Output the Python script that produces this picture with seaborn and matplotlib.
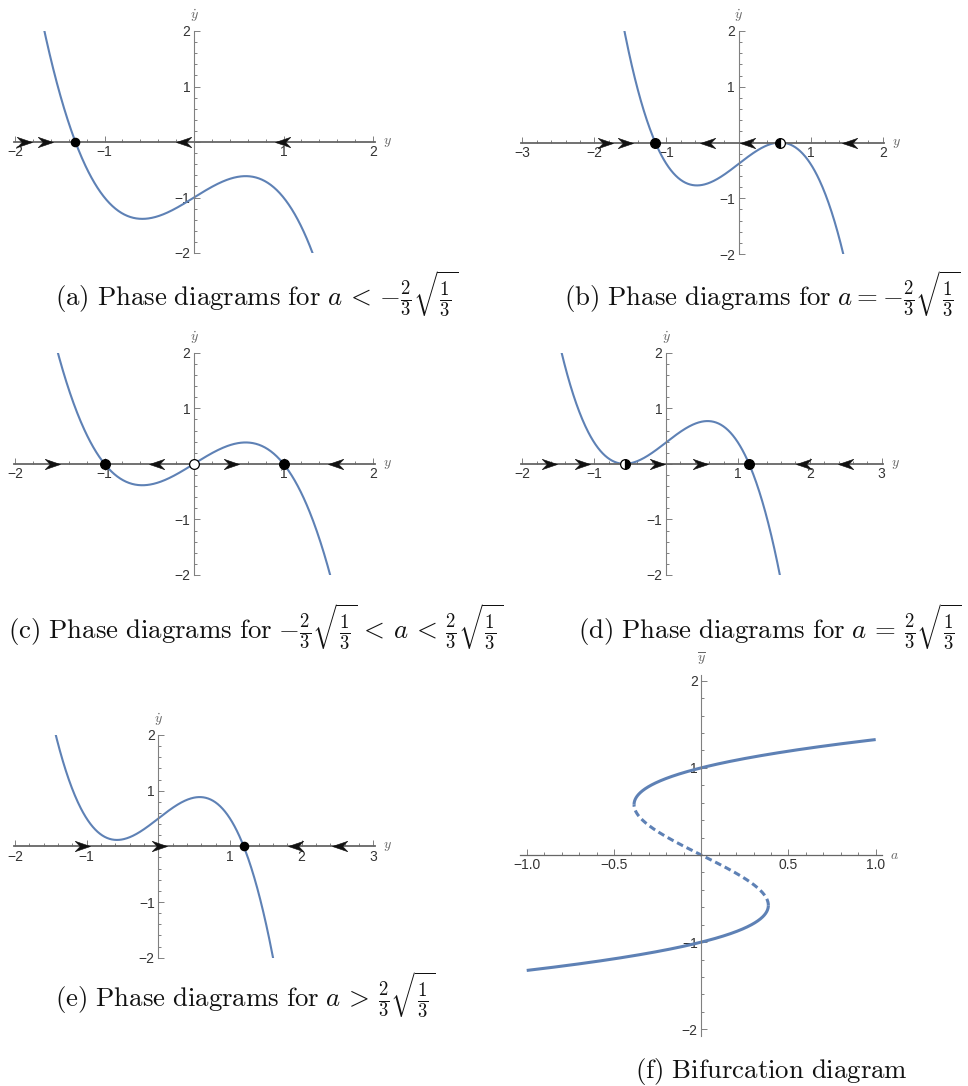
import numpy as np
import pandas as pd
import matplotlib
matplotlib.use("Agg")
import matplotlib.pyplot as plt
import seaborn as sns
from matplotlib.path import Path
from matplotlib.ticker import MultipleLocator, FuncFormatter

# ---------------------------------------------------------------------------
# Model: ydot = a + y - y^3
# ---------------------------------------------------------------------------
A_CRIT = 2.0 / (3.0 * np.sqrt(3.0))

a_values = [-1.0, -A_CRIT, 0.0, A_CRIT, 0.5]
y_ranges = [(-2, 2), (-3, 2), (-2, 2), (-2, 3), (-2, 3)]

fixed_points = [
    [-1.3247],
    [-1.1547, 0.5774],
    [-1.0, 0.0, 1.0],
    [-0.5774, 1.1547],
    [1.1915],
]
fixed_kinds = [
    ["stable"],
    ["stable", "semi_left"],
    ["stable", "unstable", "stable"],
    ["semi_right", "stable"],
    ["stable"],
]
point_sizes = [6, 7, 7, 7, 6]

arrows_right = [
    [-1.81, -1.58],
    [-1.74, -1.46],
    [-1.5, 0.5],
    [-1.52, -1.06, -0.02, 0.58],
    [-0.95, 0.12],
]
arrows_left = [
    [-0.20, 0.91],
    [-0.54, 0.02, 1.43],
    [-0.5, 1.5],
    [1.81, 2.39],
    [1.81, 2.42],
]

captions = [
    r"$\mathrm{(a)\ Phase\ diagrams\ for\ }a\,<\,{-\frac{2}{3}}\sqrt{\frac{1}{3}}$",
    r"$\mathrm{(b)\ Phase\ diagrams\ for\ }a = -\frac{2}{3}\sqrt{\frac{1}{3}}$",
    r"$\mathrm{(c)\ Phase\ diagrams\ for}\ {-\frac{2}{3}}\sqrt{\frac{1}{3}}\,<\,a\,<\,\frac{2}{3}\sqrt{\frac{1}{3}}$",
    r"$\mathrm{(d)\ Phase\ diagrams\ for\ }a\,=\,\frac{2}{3}\sqrt{\frac{1}{3}}$",
    r"$\mathrm{(e)\ Phase\ diagrams\ for\ }a\,>\,\frac{2}{3}\sqrt{\frac{1}{3}}$",
    r"$\mathrm{(f)\ Bifurcation\ diagram}$",
]

# bifurcation branch: equilibria ybar over the parameter range a in [-1, 1]
ybar_limit = 1.3247
ybar_knee = 1.0 / np.sqrt(3.0)

# ---------------------------------------------------------------------------
# Styling
# ---------------------------------------------------------------------------
sns.set_theme(style="white")
plt.rcParams.update({
    "font.family": ["Liberation Sans", "DejaVu Sans"],
    "mathtext.fontset": "cm",
    "axes.unicode_minus": True,
})

CURVE = "#5E81B5"
AXIS = "#808080"
TICKLBL = "#333333"
LABEL = "#666666"

W, H = 968, 1086
fig = plt.figure(figsize=(W / 100, H / 100), dpi=100)


def place(xref, xpx, xlim, yref, ypx, ylim):
    sx = (xpx[1] - xpx[0]) / (xref[1] - xref[0])
    left = xpx[0] + (xlim[0] - xref[0]) * sx
    right = xpx[0] + (xlim[1] - xref[0]) * sx
    sy = (ypx[1] - ypx[0]) / (yref[1] - yref[0])
    top = ypx[0] + (ylim[1] - yref[0]) * sy
    bottom = ypx[0] + (ylim[0] - yref[0]) * sy
    ax = fig.add_axes([left / W, 1 - bottom / H, (right - left) / W, (bottom - top) / H])
    ax.set_xlim(*xlim)
    ax.set_ylim(*ylim)
    ax.patch.set_alpha(0)
    return ax


def style_axes(ax, xminor, yminor, xfmt, yfmt, xlabel, ylabel, xlw=1.3):
    for s in ("top", "right"):
        ax.spines[s].set_visible(False)
    ax.spines["left"].set_position(("data", 0))
    ax.spines["bottom"].set_position(("data", 0))
    ax.spines["left"].set_color(AXIS)
    ax.spines["left"].set_linewidth(0.8)
    ax.spines["bottom"].set_color("#666666")
    ax.spines["bottom"].set_linewidth(xlw)
    ax.xaxis.set_minor_locator(MultipleLocator(xminor))
    ax.yaxis.set_minor_locator(MultipleLocator(yminor))
    ax.xaxis.set_major_formatter(FuncFormatter(xfmt))
    ax.yaxis.set_major_formatter(FuncFormatter(yfmt))
    ax.tick_params(which="both", bottom=True, left=True, top=False, right=False,
                   direction="in", color=AXIS, width=0.7,
                   labelsize=10, labelcolor=TICKLBL, pad=2.5)
    ax.tick_params(which="major", length=4.0)
    ax.tick_params(which="minor", length=2.3)
    ax.grid(False)
    xl = ax.get_xlim()
    yl = ax.get_ylim()
    ax.annotate(ylabel, xy=(0, yl[1]), xytext=(0, 5), textcoords="offset points",
                ha="center", va="bottom", fontsize=10, color=LABEL,
                annotation_clip=False)
    ax.annotate(xlabel, xy=(xl[1], 0), xytext=(6, 0), textcoords="offset points",
                ha="left", va="center", fontsize=10, color=LABEL,
                annotation_clip=False)


def int_fmt(v, pos):
    if abs(v) < 1e-9:
        return ""
    return f"{int(round(v))}".replace("-", "\u2212")


def dec_fmt(v, pos):
    if abs(v) < 1e-9:
        return ""
    return f"{v:.1f}".replace("-", "\u2212")


# arrowhead markers with a notched back, tip at the data point
arrow_r = Path([(0, 0), (-2, 0.68), (-1.35, 0), (-2, -0.68), (0, 0)],
               [Path.MOVETO, Path.LINETO, Path.LINETO, Path.LINETO, Path.CLOSEPOLY])
arrow_l = Path([(0, 0), (2, 0.68), (1.35, 0), (2, -0.68), (0, 0)],
               [Path.MOVETO, Path.LINETO, Path.LINETO, Path.LINETO, Path.CLOSEPOLY])

# panel geometry: (x reference px, y reference px)
panel_px = [
    ((15, 373), (253, 31)),
    ((522.3, 882.7), (254, 31)),
    ((15, 373), (575, 352.7)),
    ((522.3, 881.7), (575, 352.7)),
    ((15, 373.3), (957.7, 735)),
]

for i in range(5):
    lo, hi = y_ranges[i]
    xpx, ypx = panel_px[i]
    ax = place((lo, hi), xpx, (lo - 0.015, hi + 0.02), (-2, 2), ypx, (-2, 2))
    style_axes(ax, 0.2, 0.2, int_fmt, int_fmt, r"$y$", r"$\dot{y}$")
    ax.xaxis.set_major_locator(MultipleLocator(1))
    ax.yaxis.set_major_locator(MultipleLocator(1))

    a = a_values[i]
    y = np.linspace(lo, hi, 600)
    df = pd.DataFrame({"y": y, "ydot": a + y - y ** 3})
    sns.lineplot(data=df, x="y", y="ydot", ax=ax, color=CURVE, lw=1.5,
                 sort=False, estimator=None, zorder=2)

    ax.plot(arrows_right[i], [0] * len(arrows_right[i]), ls="none", marker=arrow_r,
            ms=22, color="#111111", mec="#111111", mew=0.4, zorder=4)
    ax.plot(arrows_left[i], [0] * len(arrows_left[i]), ls="none", marker=arrow_l,
            ms=22, color="#111111", mec="#111111", mew=0.4, zorder=4)

    for p, kind in zip(fixed_points[i], fixed_kinds[i]):
        kw = dict(ls="none", marker="o", ms=point_sizes[i], mec="black", mew=0.9,
                  zorder=6, clip_on=False)
        if kind == "stable":
            ax.plot([p], [0], mfc="black", **kw)
        elif kind == "unstable":
            ax.plot([p], [0], mfc="white", **kw)
        elif kind == "semi_left":
            ax.plot([p], [0], mfc="black", fillstyle="left", markerfacecoloralt="white", **kw)
        else:
            ax.plot([p], [0], mfc="black", fillstyle="right", markerfacecoloralt="white", **kw)

# bifurcation diagram
axf = place((-1, 1), (526.7, 875.7), (-1.04, 1.036), (-2, 2), (1029.3, 680.7), (-2.08, 2.07))
style_axes(axf, 0.1, 0.2, dec_fmt, int_fmt, r"$a$", r"$\overline{y}$", xlw=0.9)
axf.xaxis.set_major_locator(MultipleLocator(0.5))
axf.yaxis.set_major_locator(MultipleLocator(1))

yb_low = np.linspace(-ybar_limit, -ybar_knee, 300)
yb_mid = np.linspace(-ybar_knee, ybar_knee, 300)
yb_high = np.linspace(ybar_knee, ybar_limit, 300)
for yb, dashed in ((yb_low, False), (yb_high, False), (yb_mid, True)):
    dfb = pd.DataFrame({"a": yb ** 3 - yb, "ybar": yb})
    sns.lineplot(data=dfb, x="a", y="ybar", ax=axf, color=CURVE, lw=2.2,
                 sort=False, estimator=None, zorder=2)
    line = axf.lines[-1]
    line.set_solid_capstyle("butt")
    if dashed:
        line.set_dashes([2.2, 1.3])

# captions
caption_pos = [(55, 306), (564, 306), (8, 639), (578, 639), (55, 1007), (635, 1078)]
for (cx, cy), text in zip(caption_pos, captions):
    fig.text(cx / W, 1 - cy / H, text, ha="left", va="baseline", fontsize=19.3, color="#111111")

for ax in fig.axes:
    ax.set_xlabel("")
    ax.set_ylabel("")

fig.savefig("out.png", dpi=100)
